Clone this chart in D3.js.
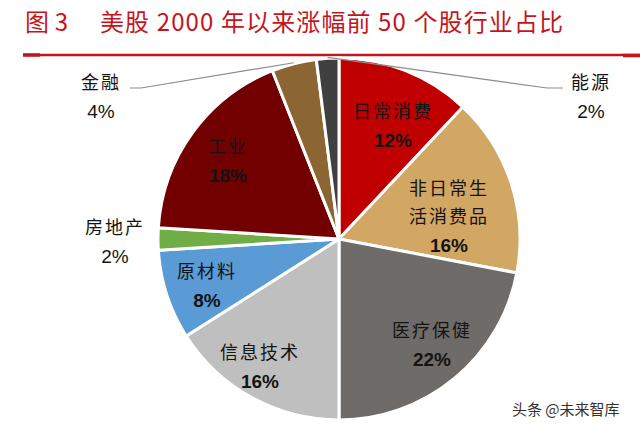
<!DOCTYPE html>
<html><head><meta charset="utf-8">
<script src="https://cdn.jsdelivr.net/npm/d3@7/dist/d3.min.js"></script>
<style>
html,body{margin:0;padding:0;background:#fff;}
svg{display:block;}
</style></head>
<body>
<svg id="chart" width="640" height="429"></svg>
<script>
// ---- data ----
const categories = ["日常消费","非日常生活消费品","医疗保健","信息技术","原材料","房地产","工业","金融","能源"];
const values = [12, 16, 22, 16, 8, 2, 18, 4, 2];
const labelLines = [["日常消费"],["非日常生","活消费品"],["医疗保健"],["信息技术"],["原材料"],["房地产"],["工业"],["金融"],["能源"]];
const valueLabels = ["12%","16%","22%","16%","8%","2%","18%","4%","2%"];
const titleParts = ["图 3", "美股 2000 年以来涨幅前 50 个股行业占比"];
const watermark = "头条 @未来智库";

// ---- styles / layout ----
const colors = ["#C00000","#D2A663","#6F6B68","#BFBFBF","#5B9BD5","#70AD47","#720000","#8C6632","#404040"];
const cx = 339, cy = 239, R = 181;
const labelLayout = [
  {x:393, y:110, out:false},
  {x:449, y:187, out:false},
  {x:432, y:329, out:false},
  {x:260, y:351, out:false},
  {x:207, y:270, out:false},
  {x:115, y:226, out:true},
  {x:228, y:145, out:false},
  {x:101, y:81,  out:true, lead:[[130,88],[141,88]]},
  {x:591, y:81,  out:true, lead:[[563,88],[547,88]]}
];

const svg = d3.select("#chart");
const cjk = "'Noto Sans CJK SC','Noto Sans',sans-serif";
const latin = "'Liberation Sans',Arial,sans-serif";

// title
svg.append("text")
  .attr("x", 25).attr("y", 31)
  .attr("fill", "#C3161C")
  .attr("font-family", cjk)
  .attr("font-size", 24)
  .attr("textLength", 43)
  .attr("lengthAdjust", "spacing")
  .text(titleParts[0]);
svg.append("text")
  .attr("x", 100).attr("y", 31)
  .attr("fill", "#C3161C")
  .attr("font-family", cjk)
  .attr("font-size", 24)
  .attr("textLength", 463)
  .attr("lengthAdjust", "spacing")
  .text(titleParts[1]);

// red rule
svg.append("line").attr("x1", 23).attr("x2", 640).attr("y1", 55).attr("y2", 55)
  .attr("stroke", "#C3161C").attr("stroke-width", 2.5);
svg.append("line").attr("x1", 23).attr("x2", 40).attr("y1", 55).attr("y2", 55)
  .attr("stroke", "#C3161C").attr("stroke-width", 3.5);
svg.append("line").attr("x1", 623).attr("x2", 640).attr("y1", 55.5).attr("y2", 55.5)
  .attr("stroke", "#C3161C").attr("stroke-width", 3.5);

// pie
const data = categories.map((c, i) => ({cat: c, value: values[i], i}));
const pie = d3.pie().value(d => d.value).sort(null).startAngle(0).endAngle(2 * Math.PI);
const arcs = pie(data);
const arc = d3.arc().innerRadius(0).outerRadius(R);
const g = svg.append("g").attr("transform", `translate(${cx},${cy})`);

g.selectAll("path").data(arcs).enter().append("path")
  .attr("d", arc)
  .attr("fill", d => colors[d.data.i])
  .attr("stroke", "#fff")
  .attr("stroke-width", 3)
  .attr("stroke-linejoin", "round");

// leader lines
arcs.forEach(a => {
  const L = labelLayout[a.data.i];
  if (!L.lead) return;
  const ang = (a.startAngle + a.endAngle) / 2;
  const px = cx + (R + 1) * Math.sin(ang);
  const py = cy - (R + 1) * Math.cos(ang);
  const pts = [L.lead[0], L.lead[1], [px, py]];
  svg.append("path")
    .attr("d", d3.line()(pts))
    .attr("fill", "none")
    .attr("stroke", "#8C8C8C")
    .attr("stroke-width", 1.2);
});

// labels
arcs.forEach(a => {
  const i = a.data.i;
  const L = labelLayout[i];
  const lines = labelLines[i];
  const col = "#141414";
  lines.forEach((t, k) => {
    svg.append("text")
      .attr("x", L.x).attr("y", L.y + k * 28)
      .attr("text-anchor", "middle")
      .attr("dominant-baseline", "central")
      .attr("font-family", cjk)
      .attr("font-size", 18)
      .attr("letter-spacing", 2)
      .attr("fill", col)
      .text(t);
  });
  svg.append("text")
    .attr("x", L.x).attr("y", L.y + lines.length * 28 + 2)
    .attr("text-anchor", "middle")
    .attr("dominant-baseline", "central")
    .attr("font-family", latin)
    .attr("font-size", 19)
    .attr("font-weight", L.out ? "normal" : "bold")
    .attr("fill", col)
    .text(valueLabels[i]);
});

// watermark
svg.append("text")
  .attr("x", 512).attr("y", 408)
  .attr("dominant-baseline", "central")
  .attr("font-family", cjk)
  .attr("font-size", 15)
  .attr("fill", "#333")
  .attr("stroke", "#fff").attr("stroke-width", 2).attr("paint-order", "stroke")
  .text(watermark);
</script>
</body></html>
